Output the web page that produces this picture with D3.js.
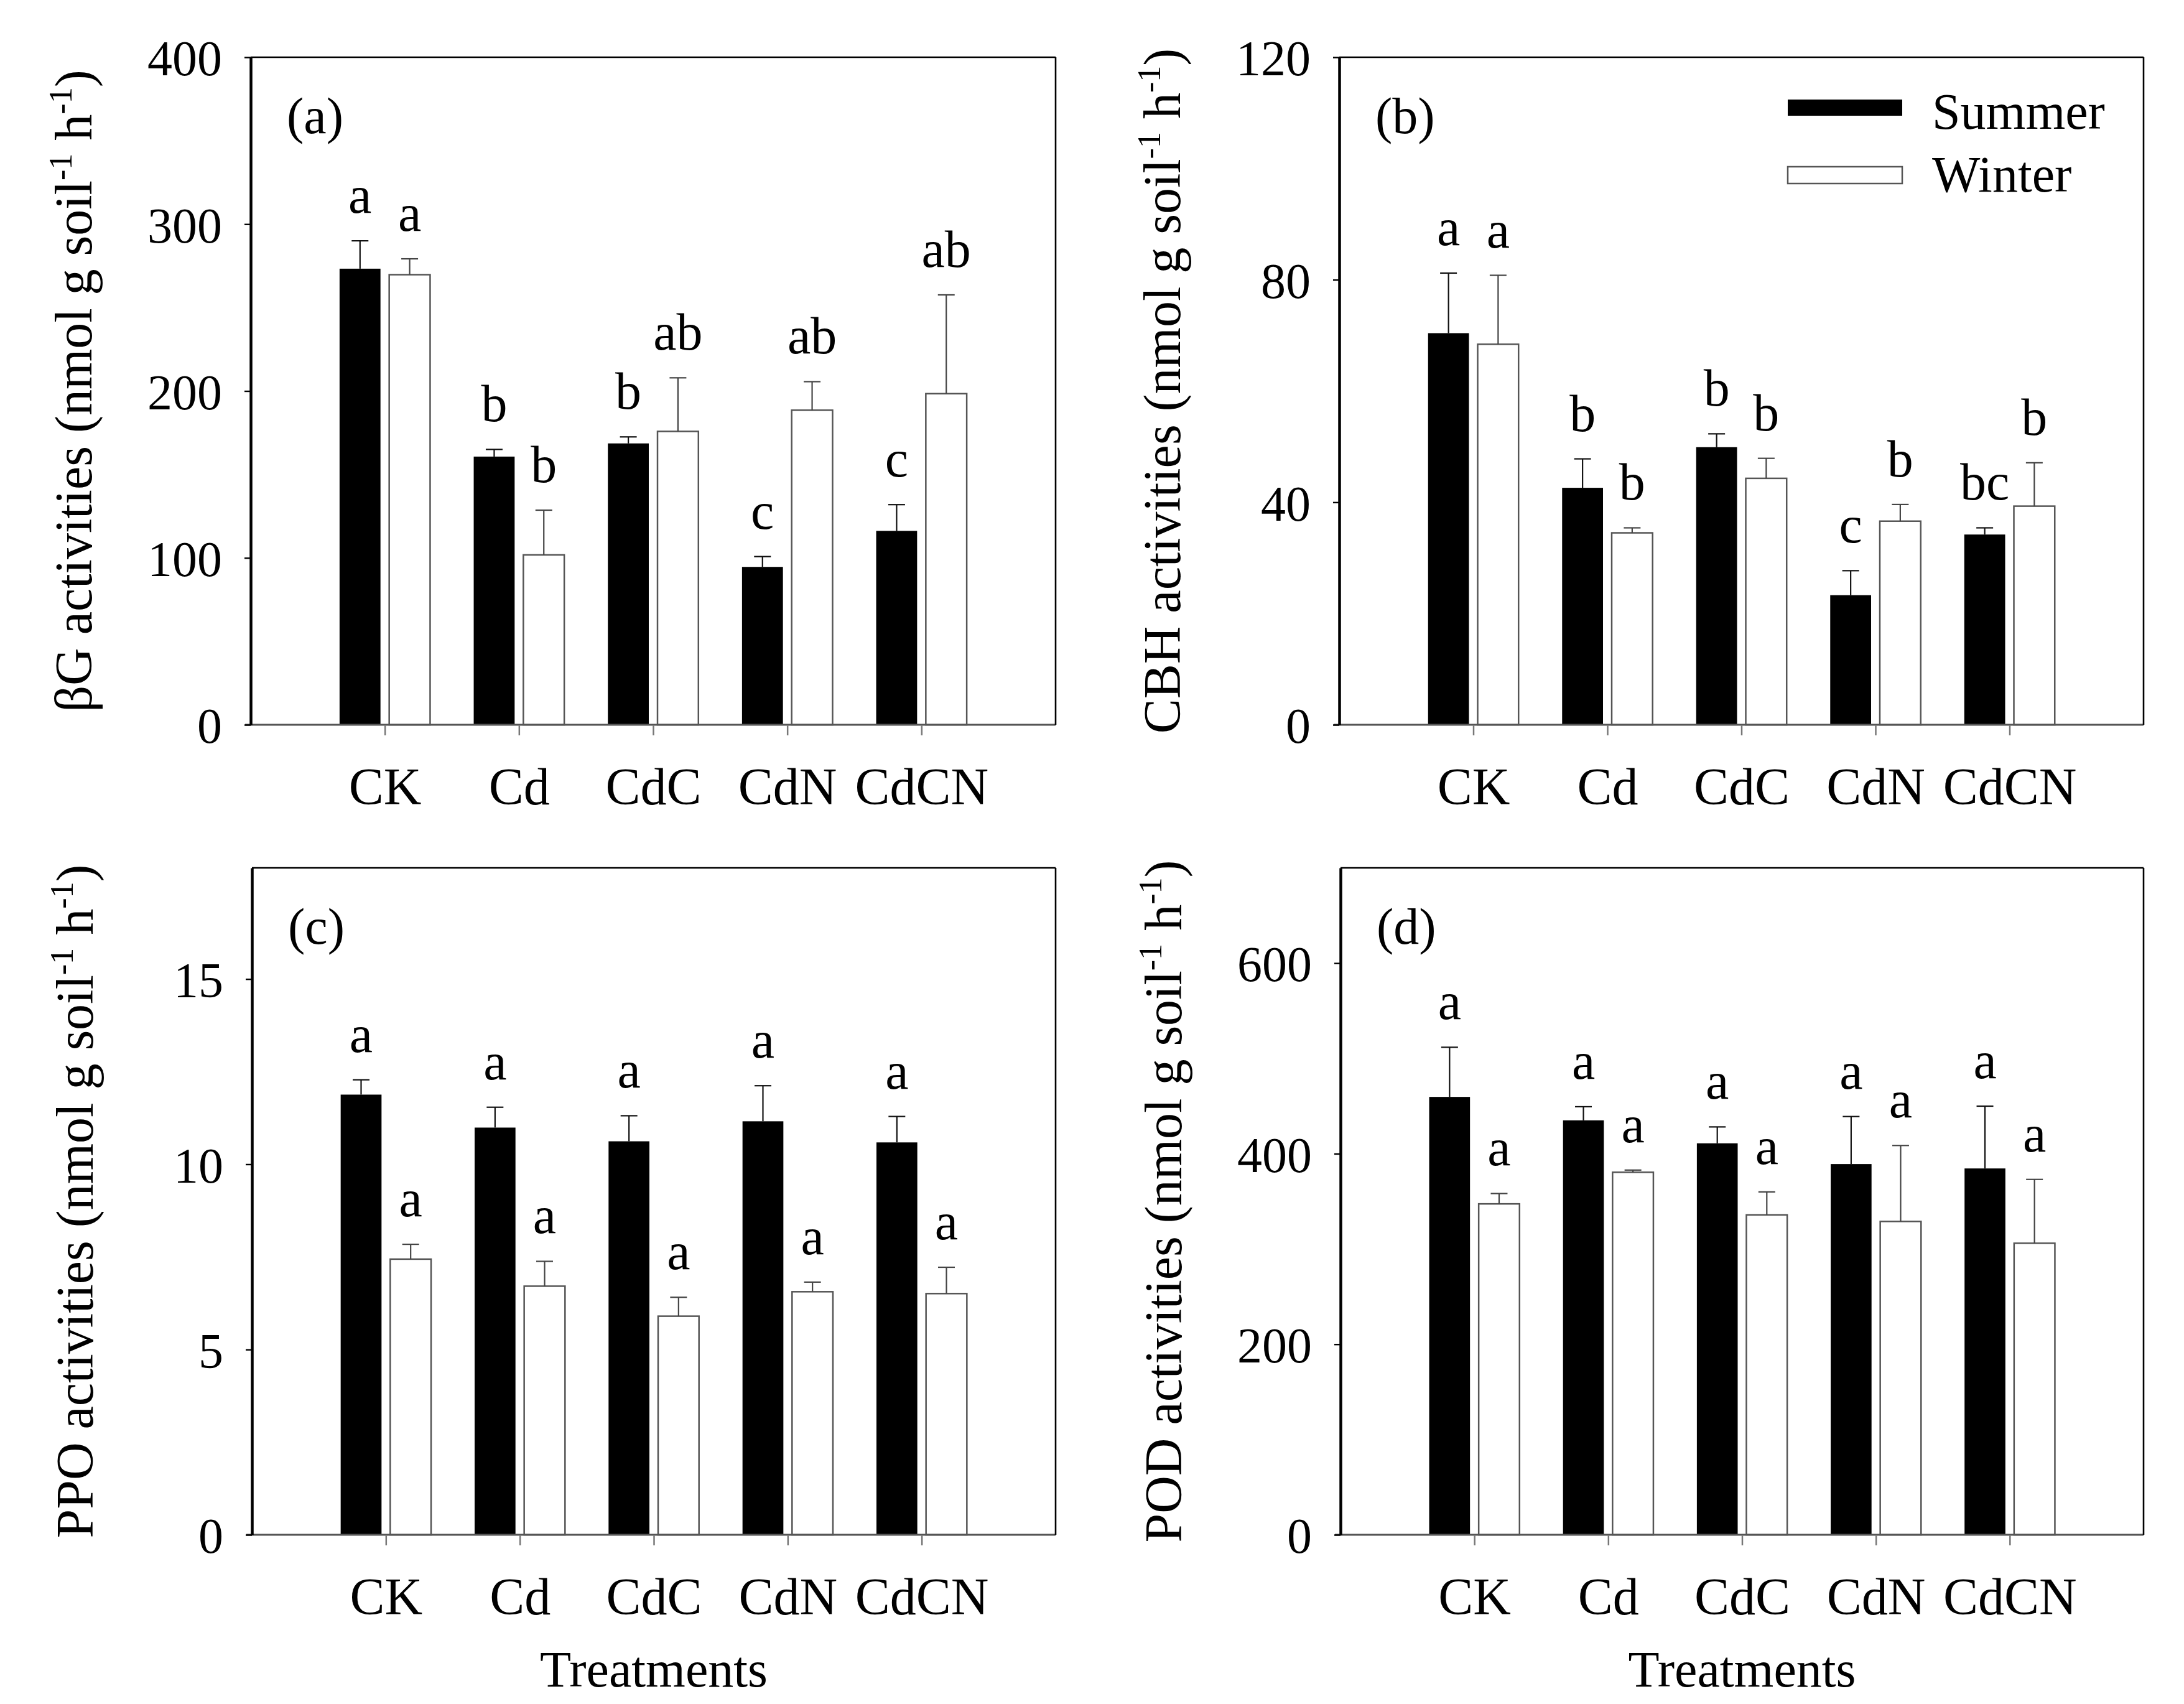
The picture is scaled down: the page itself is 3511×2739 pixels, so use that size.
<!DOCTYPE html>
<html><head><meta charset="utf-8">
<script src="https://cdn.jsdelivr.net/npm/d3@7"></script>
<style>
body{margin:0;background:#fff}
svg{display:block;background:#fff}
text{font-family:"Liberation Serif","Times New Roman",serif;fill:#000}
</style>
</head><body>
<svg id="chart" width="3511" height="2739"></svg>
<script>
// ---------- data ----------
const categories = ["CK", "Cd", "CdC", "CdN", "CdCN"];
const seriesNames = ["Summer", "Winter"];

// (a) βG activities
const bgSummer    = [273.3, 160.7, 168.6, 94.6, 116.2];
const bgSummerErr = [16.7, 4.3, 3.9, 6.2, 15.7];
const bgWinter    = [269.7, 101.8, 175.8, 188.5, 198.4];
const bgWinterErr = [9.5, 26.8, 32.1, 17.1, 59.2];
const bgSummerLetters = ["a", "b", "b", "c", "c"];
const bgWinterLetters = ["a", "b", "ab", "ab", "ab"];
const bgTicks = [0, 100, 200, 300, 400];
const bgMax = 400;

// (b) CBH activities
const cbhSummer    = [70.4, 42.6, 49.9, 23.3, 34.2];
const cbhSummerErr = [10.8, 5.2, 2.4, 4.4, 1.2];
const cbhWinter    = [68.4, 34.5, 44.3, 36.6, 39.3];
const cbhWinterErr = [12.4, 0.9, 3.6, 3.0, 7.8];
const cbhSummerLetters = ["a", "b", "b", "c", "bc"];
const cbhWinterLetters = ["a", "b", "b", "b", "b"];
const cbhTicks = [0, 40, 80, 120];
const cbhMax = 120;

// (c) PPO activities
const ppoSummer    = [11.88, 10.99, 10.62, 11.16, 10.59];
const ppoSummerErr = [0.40, 0.55, 0.69, 0.96, 0.70];
const ppoWinter    = [7.44, 6.71, 5.90, 6.56, 6.51];
const ppoWinterErr = [0.40, 0.67, 0.51, 0.26, 0.71];
const ppoSummerLetters = ["a", "a", "a", "a", "a"];
const ppoWinterLetters = ["a", "a", "a", "a", "a"];
const ppoTicks = [0, 5, 10, 15];
const ppoMax = 18;

// (d) POD activities
const podSummer    = [459.6, 435.0, 410.9, 389.1, 384.5];
const podSummerErr = [52.1, 14.3, 17.2, 49.9, 65.4];
const podWinter    = [347.3, 380.5, 335.8, 328.9, 306.0];
const podWinterErr = [10.9, 2.3, 24.1, 79.7, 67.0];
const podSummerLetters = ["a", "a", "a", "a", "a"];
const podWinterLetters = ["a", "a", "a", "a", "a"];
const podTicks = [0, 200, 400, 600];
const podMax = 700;

// ---------- panels ----------
const panels = [
  {label:"(a)", title:"βG", max:bgMax, ticks:bgTicks,
   s:bgSummer, se:bgSummerErr, w:bgWinter, we:bgWinterErr, sl:bgSummerLetters, wl:bgWinterLetters,
   left:403, right:1697, top:92, bottom:1165, legend:false, xtitle:false},
  {label:"(b)", title:"CBH", max:cbhMax, ticks:cbhTicks,
   s:cbhSummer, se:cbhSummerErr, w:cbhWinter, we:cbhWinterErr, sl:cbhSummerLetters, wl:cbhWinterLetters,
   left:2153, right:3446, top:92, bottom:1165, legend:true, xtitle:false},
  {label:"(c)", title:"PPO", max:ppoMax, ticks:ppoTicks,
   s:ppoSummer, se:ppoSummerErr, w:ppoWinter, we:ppoWinterErr, sl:ppoSummerLetters, wl:ppoWinterLetters,
   left:405, right:1697, top:1395, bottom:2467, legend:false, xtitle:true},
  {label:"(d)", title:"POD", max:podMax, ticks:podTicks,
   s:podSummer, se:podSummerErr, w:podWinter, we:podWinterErr, sl:podSummerLetters, wl:podWinterLetters,
   left:2155, right:3446, top:1395, bottom:2467, legend:false, xtitle:true}
];

const svg = d3.select("#chart");
const FONT_TICK = 80, FONT_CAT = 84, FONT_LET = 84, FONT_TITLE = 84;

panels.forEach(p => {
  const g = svg.append("g");
  const x = d3.scalePoint().domain(categories).range([p.left, p.right]).padding(1);
  const y = d3.scaleLinear().domain([0, p.max]).range([p.bottom, p.top]);
  const step = x.step();
  const bw = step * 0.305;
  const gap = step * 0.065;

  const rows = categories.map((c, i) => ({c, i}));

  // Summer bars
  g.selectAll(".sb").data(rows).join("rect")
    .attr("x", d => x(d.c) - gap/2 - bw)
    .attr("y", d => y(p.s[d.i]))
    .attr("width", bw)
    .attr("height", d => y(0) - y(p.s[d.i]))
    .attr("fill", "#000");
  // Winter bars
  g.selectAll(".wb").data(rows).join("rect")
    .attr("x", d => x(d.c) + gap/2)
    .attr("y", d => y(p.w[d.i]))
    .attr("width", bw)
    .attr("height", d => y(0) - y(p.w[d.i]))
    .attr("fill", "#fff")
    .attr("stroke", "#555")
    .attr("stroke-width", 2.5);

  // error bars
  const cap = 27;
  const drawErr = (vals, errs, cx, col) => {
    const eg = g.append("g").attr("stroke", col).attr("stroke-width", 2.2).attr("fill", "none");
    rows.forEach(d => {
      const xc = cx(d);
      eg.append("line").attr("x1", xc).attr("x2", xc)
        .attr("y1", y(vals[d.i])).attr("y2", y(vals[d.i] + errs[d.i]));
      eg.append("line").attr("x1", xc - cap/2).attr("x2", xc + cap/2)
        .attr("y1", y(vals[d.i] + errs[d.i])).attr("y2", y(vals[d.i] + errs[d.i]));
    });
  };
  const sx = d => x(d.c) - gap/2 - bw/2;
  const wx = d => x(d.c) + gap/2 + bw/2;
  drawErr(p.s, p.se, sx, "#111");
  drawErr(p.w, p.we, wx, "#444");

  // significance letters
  const LGAP = 45;
  g.selectAll(".sl").data(rows).join("text")
    .attr("x", sx).attr("y", d => y(p.s[d.i] + p.se[d.i]) - LGAP)
    .attr("text-anchor", "middle").attr("font-size", FONT_LET)
    .text(d => p.sl[d.i]);
  g.selectAll(".wl").data(rows).join("text")
    .attr("x", wx).attr("y", d => y(p.w[d.i] + p.we[d.i]) - LGAP)
    .attr("text-anchor", "middle").attr("font-size", FONT_LET)
    .text(d => p.wl[d.i]);

  // x axis
  const xa = g.append("g").attr("transform", `translate(0,${p.bottom})`)
    .call(d3.axisBottom(x).tickSize(17).tickSizeOuter(0));
  xa.select(".domain").attr("stroke", "#555").attr("stroke-width", 3)
    .attr("d", `M${p.left - 9},0H${p.right}`);
  xa.selectAll(".tick line").attr("stroke", "#777").attr("stroke-width", 2.5);
  xa.selectAll(".tick text").attr("y", 128).attr("dy", 0)
    .attr("font-size", FONT_CAT).attr("font-family", "Liberation Serif").attr("fill", "#000");

  // frame top/right
  g.append("line").attr("x1", p.left).attr("x2", p.right).attr("y1", p.top).attr("y2", p.top)
    .attr("stroke", "#000").attr("stroke-width", 2.6);
  g.append("line").attr("x1", p.right).attr("x2", p.right).attr("y1", p.top).attr("y2", p.bottom)
    .attr("stroke", "#000").attr("stroke-width", 2.6);

  // y axis
  const ya = g.append("g").attr("transform", `translate(${p.left},0)`)
    .call(d3.axisLeft(y).tickValues(p.ticks).tickSize(10).tickSizeOuter(0).tickFormat(d3.format("d")));
  ya.select(".domain").attr("stroke", "#000").attr("stroke-width", 4.5);
  ya.selectAll(".tick line").attr("stroke", "#000").attr("stroke-width", 2.4);
  ya.selectAll(".tick text").attr("x", -46).attr("dy", "0.36em")
    .attr("font-size", FONT_TICK).attr("font-family", "Liberation Serif").attr("fill", "#000");

  // y title
  const midY = (p.top + p.bottom) / 2;
  const t = g.append("text")
    .attr("transform", `translate(${p.left - 256},${midY}) rotate(-90)`)
    .attr("text-anchor", "middle").attr("font-size", FONT_TITLE);
  t.append("tspan").text(p.title + " activities (nmol g soil");
  t.append("tspan").attr("font-size", FONT_TITLE * 0.62).attr("dy", -FONT_TITLE * 0.38).text("-1");
  t.append("tspan").attr("dy", FONT_TITLE * 0.38).text(" h");
  t.append("tspan").attr("font-size", FONT_TITLE * 0.62).attr("dy", -FONT_TITLE * 0.38).text("-1");
  t.append("tspan").attr("dy", FONT_TITLE * 0.38).text(")");

  // panel label
  g.append("text").attr("x", p.left + 58).attr("y", p.top + 122)
    .attr("font-size", 82).text(p.label);

  // x title
  if (p.xtitle) {
    g.append("text").attr("x", (p.left + p.right) / 2).attr("y", p.bottom + 244)
      .attr("text-anchor", "middle").attr("font-size", 82).text("Treatments");
  }

  // legend
  if (p.legend) {
    const lx = p.right - 572, tx = p.right - 340;
    const lg = g.append("g");
    lg.append("rect").attr("x", lx).attr("y", p.top + 68).attr("width", 184).attr("height", 26)
      .attr("fill", "#000");
    lg.append("text").attr("x", tx).attr("y", p.top + 115).attr("font-size", 82).text(seriesNames[0]);
    lg.append("rect").attr("x", lx).attr("y", p.top + 176).attr("width", 184).attr("height", 27)
      .attr("fill", "#fff").attr("stroke", "#555").attr("stroke-width", 2.5);
    lg.append("text").attr("x", tx).attr("y", p.top + 216).attr("font-size", 82).text(seriesNames[1]);
  }
});
</script>
</body></html>
